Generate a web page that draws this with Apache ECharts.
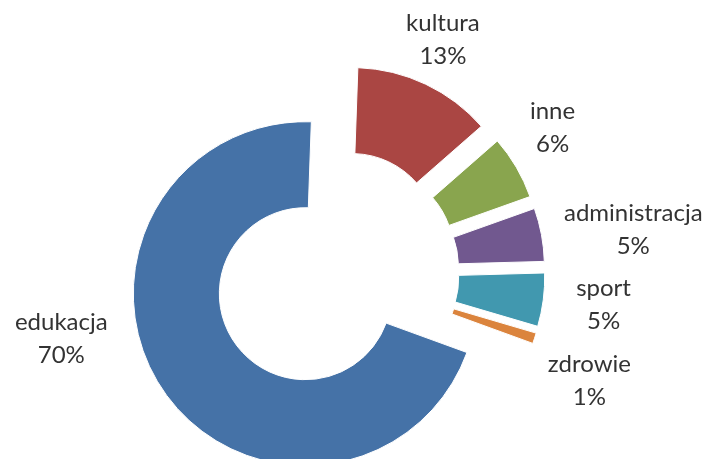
<!DOCTYPE html>
<html>
<head>
<meta charset="utf-8">
<script src="https://cdn.jsdelivr.net/npm/echarts@6/dist/echarts.min.js"></script>
<style>
html,body{margin:0;padding:0;background:#fff;}
#chart{width:712px;height:459px;}
</style>
</head>
<body>
<div id="chart"></div>
<script>
// ---- data ----
const categories = ['kultura', 'inne', 'administracja', 'sport', 'zdrowie', 'edukacja'];
const values = [13, 6, 5, 5, 1, 70];

// ---- style / layout ----
const colors = ['#AA4643', '#89A54E', '#71588F', '#4198AF', '#DB843D', '#4572A7'];
const pieCenter = [336, 273];
const radii = [86, 172];
const startAngle = 88;          // ECharts degrees (90 = 12 o'clock)
const explode = 37;             // px each slice is pulled out
const labelRadius = 234;        // default anchor distance of labels from pie centre
const labelGap = 6;             // min vertical gap between stacked labels
// label placement tweaks (clock degrees / px), mimicking the original's label spots
const labelAngleOverride = { 'kultura': 24.3, 'inne': 57.2, 'administracja': 80.6, 'sport': 96.7, 'zdrowie': 113.6, 'edukacja': 255.8 };
const labelRadiusOverride = { 'kultura': 223, 'inne': 235, 'administracja': 232, 'sport': 242, 'zdrowie': 235, 'edukacja': 237 };

const total = values.reduce((a, b) => a + b, 0);
const startFromTop = 90 - startAngle;
let acc = 0;
const midAngles = values.map(v => {
  const m = startFromTop + (acc + v / 2) / total * 360;
  acc += v;
  return m;
});
const rad = d => d * Math.PI / 180;
const placed = [];

function makeLabelLayout(i) {
  return function (p) {
    if (p.dataIndex !== i) return {};
    const name = categories[i];
    const th = rad(labelAngleOverride[name] != null ? labelAngleOverride[name] : midAngles[i]);
    const lr = labelRadiusOverride[name] != null ? labelRadiusOverride[name] : labelRadius;
    const sx = Math.sin(th), sy = -Math.cos(th);
    const w = p.labelRect.width, h = p.labelRect.height;
    const ax = pieCenter[0] + lr * sx;
    const ay = pieCenter[1] + lr * sy;
    let cx = ax + sx * w / 2;
    let cy = ay + sy * h / 2;
    // push down labels in the lower-right that collide with the previous one
    const prev = placed[i - 1];
    if (prev && sx > 0 && sy > 0) {
      const minY = prev.y + prev.h / 2 + labelGap + h / 2;
      if (cy < minY) cy = minY;
    }
    placed[i] = { x: cx, y: cy, w: w, h: h };
    return { x: cx, y: cy, align: 'center', verticalAlign: 'middle' };
  };
}

const series = categories.map((cat, i) => {
  const m = rad(midAngles[i]);
  return {
    type: 'pie',
    silent: true,
    animation: false,
    center: [pieCenter[0] + explode * Math.sin(m), pieCenter[1] - explode * Math.cos(m)],
    radius: radii,
    startAngle: startAngle,
    clockwise: true,
    avoidLabelOverlap: false,
    minShowLabelAngle: 0,
    percentPrecision: 0,
    label: {
      position: 'outside',
      formatter: '{b}\n{d}%',
      fontFamily: 'Lato',
      fontSize: 24,
      lineHeight: 33,
      color: '#333333'
    },
    labelLine: { show: false },
    labelLayout: makeLabelLayout(i),
    data: categories.map((c, j) => ({
      name: c,
      value: values[j],
      itemStyle: j === i
        ? { color: colors[j], borderColor: '#ffffff', borderWidth: 1 }
        : { color: 'rgba(0,0,0,0)', borderWidth: 0 },
      label: { show: j === i }
    }))
  };
});

const chart = echarts.init(document.getElementById('chart'), null, { renderer: 'canvas' });
chart.setOption({
  backgroundColor: '#ffffff',
  animation: false,
  series: series
});
</script>
</body>
</html>
